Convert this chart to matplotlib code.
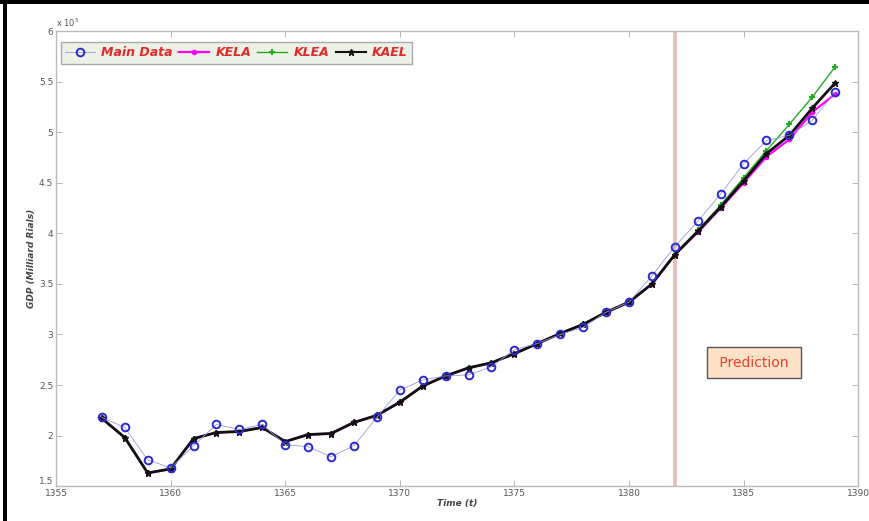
import matplotlib.pyplot as plt
from matplotlib.lines import Line2D
from matplotlib.patches import Rectangle

# GDP (x 10^5 milliard rials), years 1357..1389
years = list(range(1357, 1390))
main_data = [2.18, 2.08, 1.76, 1.68, 1.90, 2.11, 2.06, 2.11, 1.91, 1.89, 1.79,
             1.90, 2.18, 2.45, 2.55, 2.59, 2.60, 2.68, 2.85, 2.91, 3.00, 3.07,
             3.22, 3.32, 3.58, 3.87, 4.12, 4.39, 4.69, 4.92, 4.97, 5.12, 5.40]
kael = [2.17, 1.98, 1.63, 1.67, 1.97, 2.03, 2.04, 2.08, 1.94, 2.01, 2.02,
        2.13, 2.20, 2.33, 2.49, 2.59, 2.67, 2.72, 2.81, 2.91, 3.01, 3.10,
        3.22, 3.32, 3.50, 3.79, 4.02, 4.26, 4.52, 4.79, 4.97, 5.24, 5.49]
kela = [2.17, 1.98, 1.63, 1.67, 1.97, 2.03, 2.04, 2.08, 1.94, 2.01, 2.02,
        2.13, 2.20, 2.33, 2.49, 2.59, 2.67, 2.72, 2.81, 2.91, 3.01, 3.10,
        3.22, 3.32, 3.50, 3.79, 4.01, 4.25, 4.50, 4.76, 4.93, 5.20, 5.38]
klea = [2.17, 1.98, 1.63, 1.67, 1.97, 2.03, 2.04, 2.08, 1.94, 2.01, 2.02,
        2.13, 2.20, 2.33, 2.49, 2.59, 2.67, 2.72, 2.81, 2.91, 3.01, 3.10,
        3.22, 3.32, 3.50, 3.79, 4.03, 4.28, 4.55, 4.82, 5.08, 5.35, 5.65]
prediction_year = 1382
xticks = [1355, 1360, 1365, 1370, 1375, 1380, 1385, 1390]
yticks = [1.5, 2, 2.5, 3, 3.5, 4, 4.5, 5, 5.5, 6]
ytick_labels = ['1.5', '2', '2.5', '3', '3.5', '4', '4.5', '5', '5.5', '6']

fig = plt.figure(figsize=(8.7, 5.21), dpi=100)
ax = fig.add_axes([0.0644, 0.067, 0.922, 0.873])

ax.axvline(prediction_year, color='#e6bcb8', lw=2.6, zorder=1)

ax.plot(years, kela, color='#ff00ff', lw=1.6, marker='.', ms=6, zorder=3)
ax.plot(years, klea, color='#22aa22', lw=1.0, marker='+', ms=5, mew=1.5, zorder=3)
ax.plot(years, kael, color='#111111', lw=2.0, marker='*', ms=5, zorder=4)
ax.plot(years, main_data, color='#9999e0', lw=0.6, marker='o', ms=5.5,
        mfc='none', mec='#2a2ad0', mew=1.4, zorder=5)

ax.set_xlim(1355, 1390)
ax.set_ylim(1.5, 6)
ax.set_xticks(xticks)
ax.set_yticks(yticks)
ax.set_yticklabels(ytick_labels)
ax.get_yticklabels()[0].set_va('bottom')
ax.tick_params(direction='in', top=True, right=True, length=4, width=0.6,
               color='#aaaaaa', labelsize=6.5, labelcolor='#555555')
ax.tick_params(axis='x', pad=2)
ax.tick_params(axis='y', pad=2)
for s in ax.spines.values():
    s.set_color('#bbbbbb')
    s.set_linewidth(1.0)

ax.text(0.0, 1.005, 'x 10$^5$', transform=ax.transAxes, fontsize=6,
        color='#555555', ha='left', va='bottom')

ax.set_xlabel('Time (t)', fontsize=6.5, fontweight='bold', style='italic',
              color='#444444', labelpad=1)
ax.set_ylabel('GDP (Milliard Rials)', fontsize=6.5, fontweight='bold',
              style='italic', color='#444444', labelpad=2)

handles = [
    Line2D([], [], color='#9999e0', lw=0.6, marker='o', ms=5.5, mfc='none',
           mec='#2a2ad0', mew=1.4),
    Line2D([], [], color='#ff00ff', lw=1.6, marker='.', ms=6),
    Line2D([], [], color='#22aa22', lw=1.0, marker='+', ms=5, mew=1.5),
    Line2D([], [], color='#111111', lw=1.5, marker='*', ms=5),
]
leg = ax.legend(handles, ['Main Data', 'KELA', 'KLEA', 'KAEL'], ncol=4,
                loc='upper left', bbox_to_anchor=(-0.002, 0.99),
                frameon=True, fancybox=False, borderpad=0.35,
                handlelength=2.4, handletextpad=0.5, columnspacing=0.5,
                prop={'size': 9, 'weight': 'bold', 'style': 'italic'})
leg.get_frame().set_facecolor('#eef2e6')
leg.get_frame().set_edgecolor('#aaaaaa')
leg.get_frame().set_alpha(1)
for t in leg.get_texts():
    t.set_color('#e02a2a')

ax.text(1385.46, 2.72, ' Prediction ', fontsize=10, color='#e8402a',
        ha='center', va='center',
        bbox=dict(boxstyle='square,pad=0.6', fc='#fde2c8', ec='#555555', lw=1.0))

# black frame on top and left of the screenshot
fig.add_artist(Rectangle((0, 0.992), 1, 0.008, transform=fig.transFigure,
                         color='black', lw=0))
fig.add_artist(Rectangle((0.004, 0), 0.004, 1, transform=fig.transFigure,
                         color='black', lw=0))

fig.savefig('out.png', dpi=100)
